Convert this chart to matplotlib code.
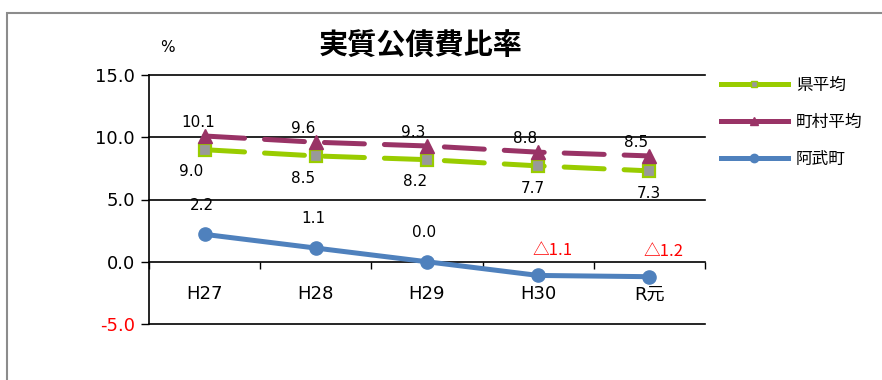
import numpy as np
import matplotlib.pyplot as plt
from matplotlib.patches import Rectangle
from matplotlib.lines import Line2D

plt.rcParams['font.family'] = ['DejaVu Sans', 'Noto Sans CJK JP']
cjk = ['Noto Sans CJK JP', 'DejaVu Sans']

years = ['H27', 'H28', 'H29', 'H30', 'R元']
ken = [9.0, 8.5, 8.2, 7.7, 7.3]
chouson = [10.1, 9.6, 9.3, 8.8, 8.5]
abu = [2.2, 1.1, 0.0, -1.1, -1.2]
abu_labels = ['2.2', '1.1', '0.0', '△1.1', '△1.2']

green = '#99CC00'
maroon = '#993366'
blue = '#4F81BD'

fig = plt.figure(figsize=(8.82, 3.8), dpi=100)
fig.patches.append(Rectangle((7 / 882, -0.1), 1.0, 1 - 13 / 380 + 0.1,
                             transform=fig.transFigure, fill=False,
                             edgecolor='#8c8c8c', lw=1.5))
ax = fig.add_axes([149 / 882, 56 / 380, 556 / 882, 249 / 380])

x = np.arange(len(years))

ax.plot(x, ken, color=green, lw=3.6, dashes=(8, 4), dash_capstyle='round',
        marker='s', ms=8.5, mfc='#999999', mec=green, mew=1.6, zorder=3)
ax.plot(x, chouson, color=maroon, lw=3.6, dashes=(8, 4), dash_capstyle='round',
        marker='^', ms=9.5, mfc=maroon, mec=maroon, zorder=3)
ax.plot(x, abu, color=blue, lw=3.6, solid_capstyle='round',
        marker='o', ms=9.5, mfc=blue, mec=blue, zorder=4)

# data labels
ken_dx = [-13, -13, -12, -5, -1]
for i, v in enumerate(ken):
    ax.annotate(f'{v:.1f}', (i, v), xytext=(ken_dx[i] * 0.72, -16), textcoords='offset points',
                ha='center', va='center', fontsize=11)
cho_dx = [-6, -13, -14, -13, -13]
for i, v in enumerate(chouson):
    ax.annotate(f'{v:.1f}', (i, v), xytext=(cho_dx[i] * 0.72, 10), textcoords='offset points',
                ha='center', va='center', fontsize=11)
for i, v in enumerate(abu):
    neg = v < 0
    if neg:
        ax.annotate(abu_labels[i], (i, v), xytext=(10, 18), textcoords='offset points',
                    ha='center', va='center', fontsize=12, color='red', family=cjk)
    else:
        ax.annotate(abu_labels[i], (i, v), xytext=(-2, 21), textcoords='offset points',
                    ha='center', va='center', fontsize=11)

ax.set_xlim(-0.5, len(years) - 0.5)
ax.set_ylim(-5, 15)
ax.set_yticks([-5, 0, 5, 10, 15])
ax.set_yticklabels(['-5.0', '0.0', '5.0', '10.0', '15.0'], fontsize=13)
ax.get_yticklabels()[0].set_color('red')
ax.tick_params(axis='y', direction='out', length=6, width=1, pad=4)
for yv in [-5, 5, 10, 15]:
    ax.axhline(yv, color='black', lw=1.2, zorder=1, clip_on=False)

ax.spines['top'].set_visible(False)
ax.spines['right'].set_visible(False)
ax.spines['left'].set_linewidth(1.2)
ax.spines['bottom'].set_position(('data', 0))
ax.spines['bottom'].set_linewidth(1.2)
ax.set_xticks(np.arange(len(years) + 1) - 0.5)
ax.set_xticklabels([])
ax.tick_params(axis='x', which='major', direction='out', length=5, width=1)
ax.set_xticks(x, minor=True)
ax.set_xticklabels(years, minor=True, fontsize=13)
ax.tick_params(axis='x', which='minor', length=0, pad=17)

fig.text(421 / 882, 1 - 46 / 380, '実質公債費比率', ha='center', va='center',
         fontsize=21, fontweight='bold', family=cjk)
fig.text(167 / 882, 1 - 47 / 380, '%', ha='center', va='center', fontsize=11)

handles = [
    Line2D([], [], color=green, lw=3.6, marker='s', ms=5, mfc='#999999', mec=green, mew=1),
    Line2D([], [], color=maroon, lw=3.6, marker='^', ms=6, mfc=maroon, mec=maroon),
    Line2D([], [], color=blue, lw=3.6, marker='o', ms=6, mfc=blue, mec=blue),
]
fig.legend(handles, ['県平均', '町村平均', '阿武町'], loc='upper left',
           bbox_to_anchor=(706 / 882, 1 - 62 / 380), frameon=False,
           prop={'family': cjk, 'size': 12}, handlelength=4.0, labelspacing=1.2,
           handletextpad=0.5)

fig.savefig('out.png', dpi=100)
